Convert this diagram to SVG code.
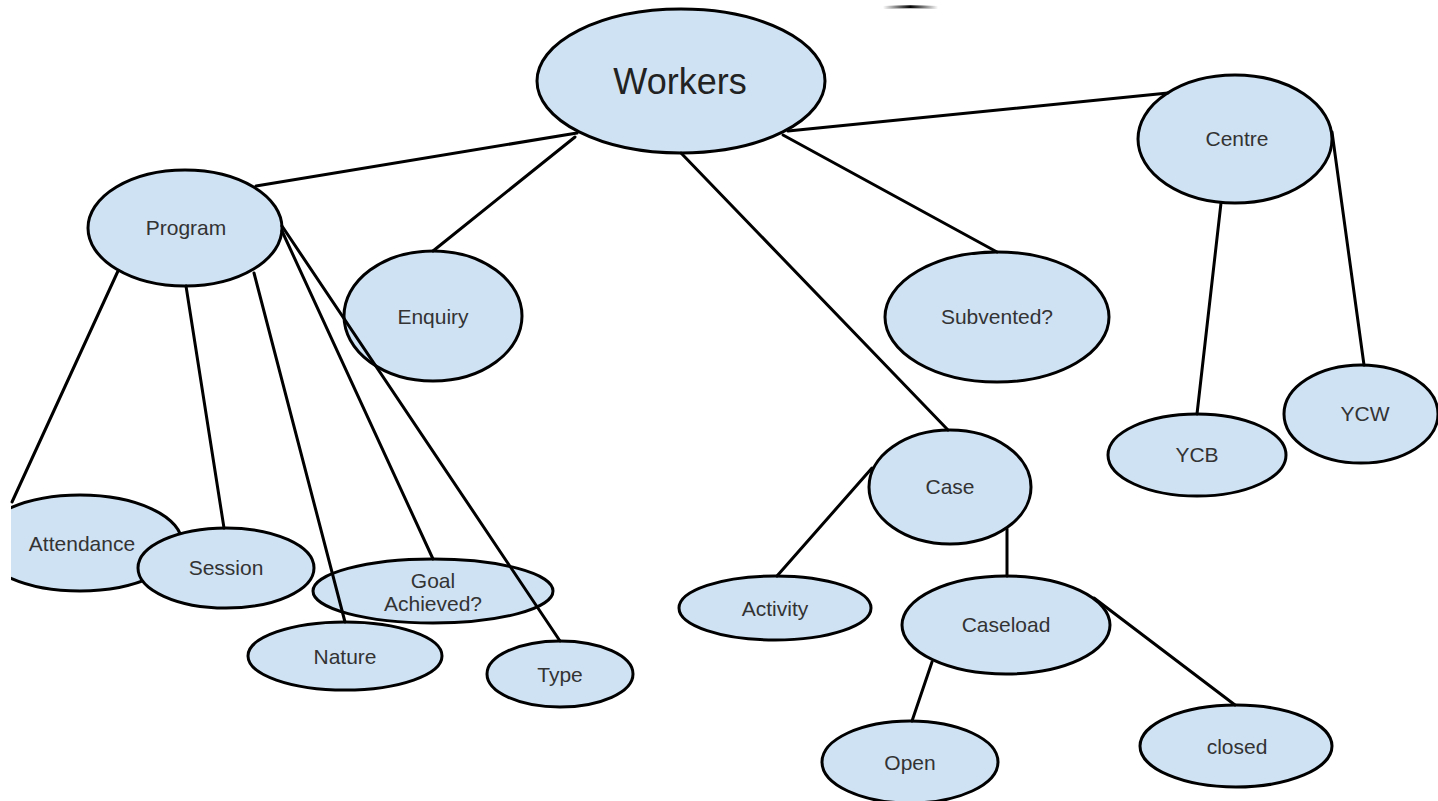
<svg xmlns="http://www.w3.org/2000/svg" width="1438" height="801" viewBox="0 0 1438 801">
<style>
.n{fill:#cfe2f3;stroke:#000;stroke-width:3}
.c line{stroke:#000;stroke-width:3;stroke-linecap:round}
.t{font-family:"Liberation Sans",Arial,sans-serif;font-size:21px;fill:#333;text-anchor:middle}
.big{font-size:36px;fill:#222}
</style>
<defs>
<clipPath id="leftclip"><rect x="11" y="0" width="1427" height="801"/></clipPath>
<linearGradient id="fade" gradientUnits="userSpaceOnUse" x1="883" y1="0" x2="938" y2="0">
<stop offset="0" stop-color="#000" stop-opacity="0"/>
<stop offset="0.5" stop-color="#000" stop-opacity="1"/>
<stop offset="1" stop-color="#000" stop-opacity="0"/>
</linearGradient>
</defs>
<rect width="1438" height="801" fill="#fff"/>
<path d="M883 7.5 Q910 6 938 7.5" fill="none" stroke="url(#fade)" stroke-width="3"/>

<g id="workers"><ellipse class="n" cx="681" cy="81" rx="144" ry="72"/><text class="t big" x="680" y="94">Workers</text></g>
<g id="program"><ellipse class="n" cx="185" cy="228" rx="97" ry="58"/><text class="t" x="186" y="235">Program</text></g>
<g id="enquiry"><ellipse class="n" cx="433" cy="316" rx="89" ry="65"/><text class="t" x="433" y="324">Enquiry</text></g>
<g id="subvented"><ellipse class="n" cx="997" cy="317" rx="112" ry="65"/><text class="t" x="997" y="324">Subvented?</text></g>
<g id="centre"><ellipse class="n" cx="1235" cy="139" rx="97" ry="64"/><text class="t" x="1237" y="146">Centre</text></g>
<g id="ycb"><ellipse class="n" cx="1197" cy="455" rx="89" ry="41"/><text class="t" x="1197" y="462">YCB</text></g>
<g id="ycw"><ellipse class="n" cx="1361" cy="414" rx="77" ry="49"/><text class="t" x="1365" y="421">YCW</text></g>
<g id="case"><ellipse class="n" cx="950" cy="487" rx="81" ry="57"/><text class="t" x="950" y="494">Case</text></g>
<g id="activity"><ellipse class="n" cx="775" cy="608" rx="96" ry="32"/><text class="t" x="775" y="616">Activity</text></g>
<g id="caseload"><ellipse class="n" cx="1006" cy="625" rx="104" ry="49"/><text class="t" x="1006" y="632">Caseload</text></g>
<g id="open"><ellipse class="n" cx="910" cy="762" rx="88" ry="41"/><text class="t" x="910" y="770">Open</text></g>
<g id="closed"><ellipse class="n" cx="1236" cy="746" rx="96" ry="41"/><text class="t" x="1237" y="754">closed</text></g>
<g id="attendance" clip-path="url(#leftclip)"><ellipse class="n" cx="80" cy="543" rx="102" ry="48"/><text class="t" x="82" y="551">Attendance</text></g>
<g id="session"><ellipse class="n" cx="226" cy="568" rx="88" ry="40"/><text class="t" x="226" y="575">Session</text></g>
<g id="goal"><ellipse class="n" cx="433" cy="591" rx="120" ry="32"/><text class="t" x="433" y="588">Goal</text><text class="t" x="433" y="611">Achieved?</text></g>
<g id="nature"><ellipse class="n" cx="345" cy="656" rx="97" ry="34"/><text class="t" x="345" y="664">Nature</text></g>
<g id="type"><ellipse class="n" cx="560" cy="674" rx="73" ry="33"/><text class="t" x="560" y="682">Type</text></g>

<g id="connectors" class="c">
<line x1="577" y1="133" x2="256" y2="186"/>
<line x1="575" y1="137" x2="433" y2="251"/>
<line x1="681" y1="153" x2="948" y2="430"/>
<line x1="783" y1="135" x2="997" y2="252"/>
<line x1="788" y1="131" x2="1168" y2="93"/>
<line x1="1221" y1="203" x2="1197" y2="414"/>
<line x1="1332" y1="132" x2="1364" y2="365"/>
<line x1="118" y1="271" x2="12" y2="502"/>
<line x1="186" y1="286" x2="224" y2="528"/>
<line x1="254" y1="273" x2="345" y2="622"/>
<line x1="282" y1="231" x2="433" y2="559"/>
<line x1="282" y1="226" x2="560" y2="641"/>
<line x1="872" y1="468" x2="777" y2="576"/>
<line x1="1007" y1="529" x2="1007" y2="576"/>
<line x1="932" y1="662" x2="912" y2="721"/>
<line x1="1094" y1="598" x2="1235" y2="705"/>
</g>
</svg>
